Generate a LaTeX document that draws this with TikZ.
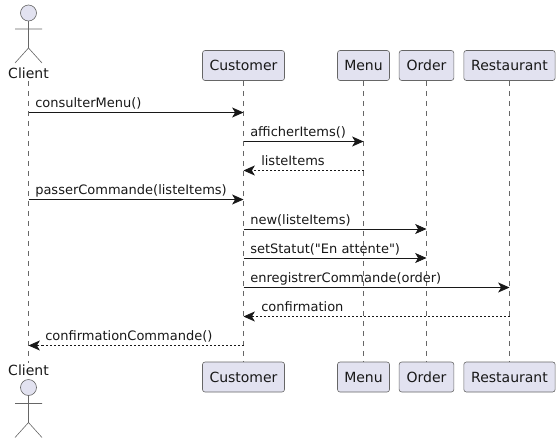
\documentclass[tikz,border=0pt]{standalone}
\usepackage{fontspec}
\setmainfont{DejaVu Sans}
\newfontfamily\plainfont{DejaVu Sans}
\usetikzlibrary{arrows.meta}
\definecolor{boxfill}{HTML}{E2E2F0}
\definecolor{ink}{HTML}{181818}
\definecolor{edge}{HTML}{666666}
\tikzset{
  x=0.75pt,y=-0.75pt,
  part/.style={draw=edge,fill=boxfill,rounded corners=1.9pt,line width=0.45pt,minimum height=22.5pt,inner sep=0pt,font=\fontsize{10.5}{12}\selectfont,text=ink},
  actorname/.style={inner sep=0pt,font=\fontsize{10.5}{12}\selectfont,text=ink},
  actorhead/.style={draw=edge,fill=boxfill,line width=0.45pt},
  actorline/.style={draw=edge,line width=0.45pt},
  lifeline/.style={draw=edge,line width=0.4pt,dash pattern=on 3.75pt off 3.75pt},
  msg/.style={draw=ink,line width=0.55pt,-{Stealth[length=8.5pt,width=7.5pt,inset=2.2pt]}},
  reply/.style={msg,dash pattern=on 1.5pt off 1.5pt},
  msglabel/.style={inner sep=0pt,anchor=base west,font=\plainfont\fontsize{9.75}{12}\selectfont,text=ink}
}
\begin{document}
\begin{tikzpicture}
\useasboundingbox (0,0) rectangle (560,443);
% participant boxes
\node[part,minimum width=61.5pt] (customerT) at (243.5,65.5) {Customer};
\node[part,minimum width=39pt] (menuT) at (363.5,65.5) {Menu};
\node[part,minimum width=41pt] (orderT) at (426.5,65.5) {Order};
\node[part,minimum width=68.5pt] (restaurantT) at (509.5,65.5) {Restaurant};
\node[part,minimum width=61.5pt] (customerB) at (243.5,377) {Customer};
\node[part,minimum width=39pt] (menuB) at (363.5,377) {Menu};
\node[part,minimum width=41pt] (orderB) at (426.5,377) {Order};
\node[part,minimum width=68.5pt] (restaurantB) at (509.5,377) {Restaurant};
% actor names and lifeline ends
\node[actorname,anchor=base] (clientNameT) at (28.5,78) {Client};
\node[actorname,anchor=base] (clientNameB) at (28.5,375) {Client};
\coordinate (clientT) at (28.5,81);
\coordinate (clientB) at (28.5,363);
% lifelines
\draw[lifeline] (clientT) -- (clientB);
\draw[lifeline] (customerT) -- (customerB);
\draw[lifeline] (menuT) -- (menuB);
\draw[lifeline] (orderT) -- (orderB);
\draw[lifeline] (restaurantT) -- (restaurantB);
% actors
\draw[actorhead] (28.5,13) circle (8);
\draw[actorline] (28.5,21) -- (28.5,48) (15,29) -- (42,29) (15,63) -- (28.5,48) -- (42,63);
\draw[actorhead] (28.5,387.5) circle (8);
\draw[actorline] (28.5,395.5) -- (28.5,422.5) (15,403.5) -- (42,403.5) (15,437.5) -- (28.5,422.5) -- (42,437.5);
% messages
\foreach \n/\y in {1/112.5,2/141.5,3/170.5,4/199.5,5/229,6/258,7/287.5,8/316.5,9/345.5}
  \coordinate (m\n) at (0,\y);
\draw[msg] (clientT|-m1) -- (customerT|-m1);
\draw[msg] (customerT|-m2) -- (menuT|-m2);
\draw[reply] (menuT|-m3) -- (customerT|-m3);
\draw[msg] (clientT|-m4) -- (customerT|-m4);
\draw[msg] (customerT|-m5) -- (orderT|-m5);
\draw[msg] (customerT|-m6) -- (orderT|-m6);
\draw[msg] (customerT|-m7) -- (restaurantT|-m7);
\draw[reply] (restaurantT|-m8) -- (customerT|-m8);
\draw[reply] (customerT|-m9) -- (clientT|-m9);
\node[msglabel] (l1) at (35,107.5) {consulterMenu()};
\node[msglabel] (l2) at (250,136.5) {afficherItems()};
\node[msglabel] (l3) at (261,165.5) {listeItems};
\node[msglabel] (l4) at (35,194.5) {passerCommande(listeItems)};
\node[msglabel] (l5) at (250,224) {new(listeItems)};
\node[msglabel] (l6) at (250,253) {setStatut("En attente")};
\node[msglabel] (l7) at (250,282.5) {enregistrerCommande(order)};
\node[msglabel] (l8) at (261,311.5) {confirmation};
\node[msglabel] (l9) at (45,340.5) {confirmationCommande()};
\end{tikzpicture}
\end{document}
